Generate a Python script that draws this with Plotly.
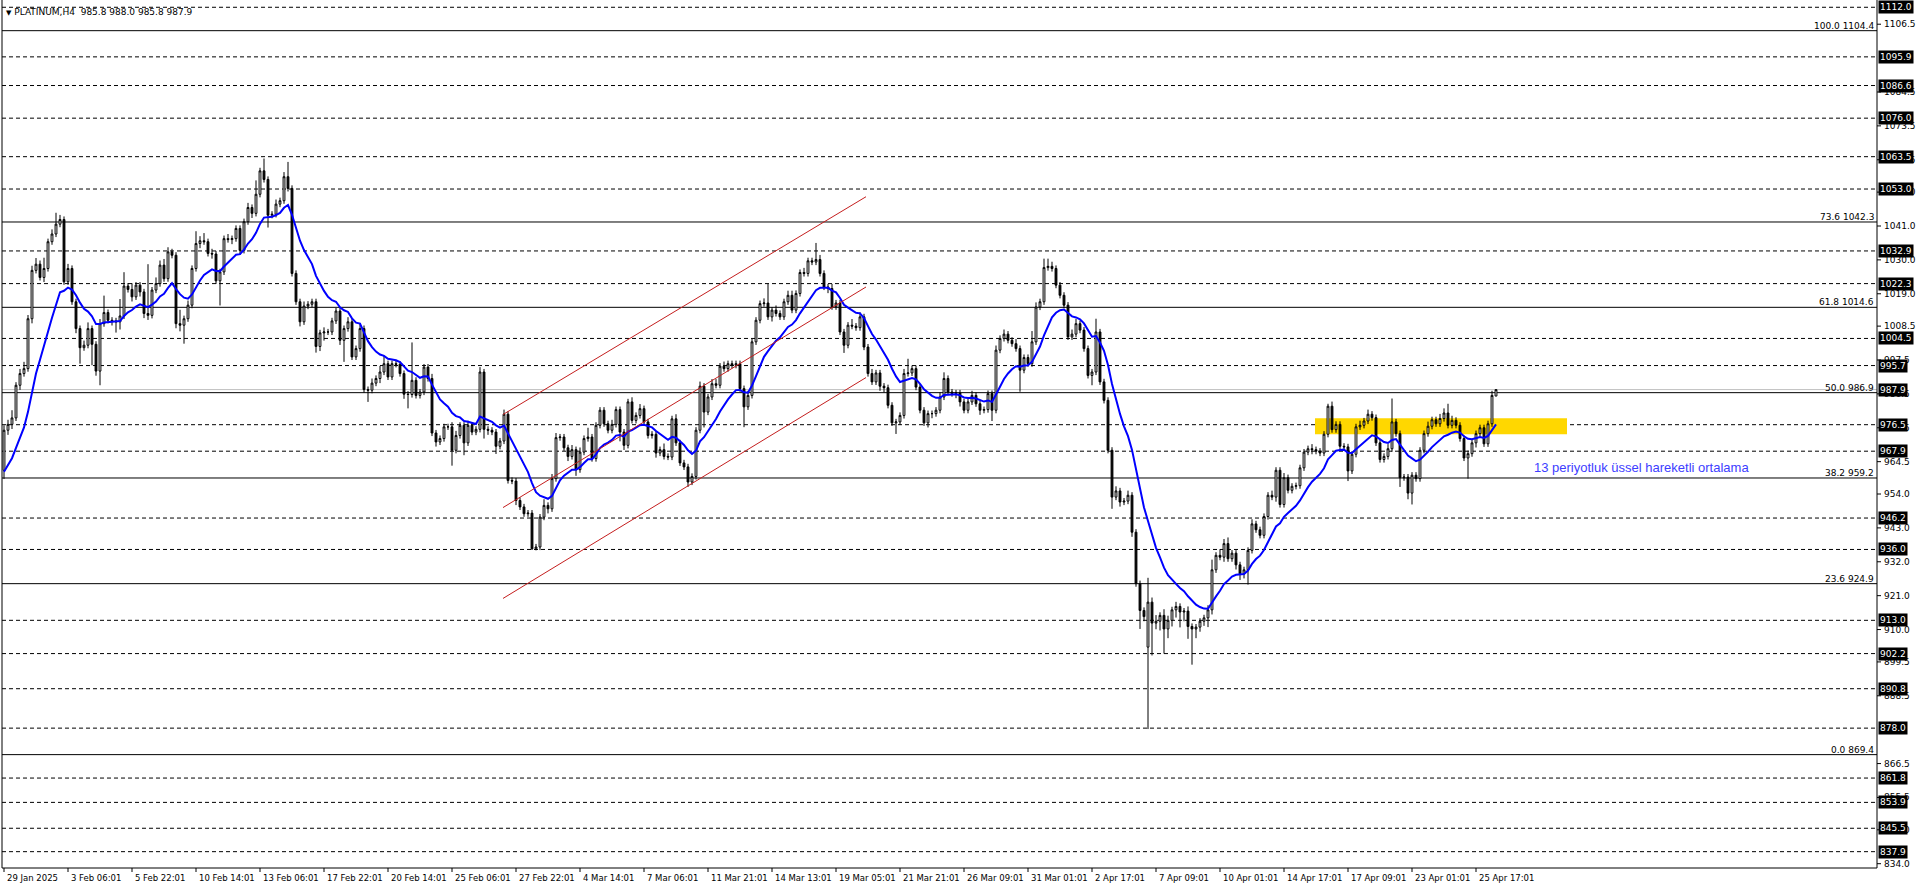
import plotly.graph_objects as go

# ---------------- data ----------------
closes = [
974.7, 976.6, 978.7, 989.3, 993.1, 994.7, 1010.9, 1026.6, 1028.6, 1024.3,
1027.2, 1035.9, 1038.4, 1041.6, 1043.1, 1022.9, 1027.2, 1016.4, 1007.7, 1001.5,
1002.3, 1007.7, 1002.6, 993.9, 1009.3, 1012.9, 1010.4, 1010.2, 1009.9, 1011.8,
1021.5, 1020.4, 1018.0, 1021.8, 1019.6, 1012.6, 1012.0, 1020.2, 1022.3, 1028.3,
1023.9, 1032.6, 1031.5, 1009.3, 1008.8, 1010.9, 1015.3, 1027.2, 1035.3, 1036.2,
1035.9, 1032.1, 1031.9, 1023.2, 1026.1, 1036.9, 1036.6, 1036.9, 1040.2, 1033.1,
1042.4, 1047.0, 1045.1, 1051.3, 1058.9, 1056.1, 1044.5, 1044.8, 1048.1, 1049.2,
1057.0, 1053.2, 1025.6, 1016.4, 1009.9, 1015.0, 1015.6, 1016.4, 1001.9, 1006.3,
1006.6, 1006.6, 1010.2, 1013.4, 1003.9, 1007.7, 1009.9, 998.5, 1001.2, 1007.7,
987.9, 987.7, 990.0, 991.5, 993.6, 996.3, 992.0, 996.3, 996.1, 993.1,
986.4, 986.3, 990.9, 986.0, 987.1, 995.2, 991.5, 973.8, 970.9, 972.0,
975.8, 975.8, 968.2, 973.0, 976.3, 970.6, 976.3, 974.1, 975.0, 993.6,
975.0, 974.7, 974.1, 969.5, 971.2, 979.9, 958.4, 958.2, 951.9, 949.8,
947.6, 947.8, 936.2, 936.8, 946.5, 950.3, 949.2, 959.0, 972.3, 972.5,
969.0, 966.2, 968.4, 961.9, 967.6, 972.0, 972.5, 965.5, 976.3, 981.2,
976.8, 974.7, 976.6, 981.4, 974.1, 969.8, 983.9, 977.9, 979.5, 981.7,
977.4, 973.0, 973.4, 967.3, 968.4, 966.2, 966.0, 978.4, 970.6, 964.1,
962.8, 957.9, 959.7, 974.7, 989.0, 980.6, 985.5, 989.8, 989.3, 995.5,
994.7, 996.3, 995.8, 996.3, 988.2, 982.3, 986.0, 1003.4, 1010.4, 1015.8,
1016.0, 1011.5, 1013.7, 1012.6, 1011.5, 1016.4, 1018.5, 1013.7, 1019.1, 1025.9,
1025.6, 1029.7, 1029.3, 1030.1, 1025.6, 1021.2, 1020.7, 1014.8, 1016.0, 1006.6,
1002.3, 1008.8, 1008.5, 1008.0, 1011.5, 1001.7, 993.1, 990.4, 993.3, 989.0,
988.5, 982.8, 977.1, 977.4, 979.5, 993.1, 993.3, 994.7, 988.7, 981.2,
977.1, 980.1, 980.1, 981.2, 985.5, 991.5, 987.1, 986.6, 986.8, 983.9,
981.2, 983.9, 986.0, 983.3, 981.2, 981.4, 986.6, 981.2, 1000.7, 1004.5,
1005.9, 1003.9, 1002.8, 1001.2, 994.2, 998.3, 996.3, 1003.4, 1014.7, 1016.4,
1027.5, 1027.9, 1027.2, 1021.8, 1018.5, 1015.3, 1005.0, 1005.9, 1009.3, 1007.2,
1001.2, 992.5, 993.6, 1006.6, 990.4, 984.4, 968.2, 953.0, 955.0, 951.4,
951.7, 953.6, 941.6, 924.9, 916.2, 914.2, 918.9, 912.1, 912.7, 914.6,
910.2, 913.0, 916.4, 917.5, 915.7, 916.0, 911.0, 910.2, 910.8, 912.7,
913.8, 916.4, 929.4, 934.1, 933.5, 937.9, 933.0, 934.8, 931.0, 928.1,
929.4, 935.7, 944.3, 942.4, 940.6, 946.7, 953.6, 953.0, 961.7, 950.6,
959.3, 955.2, 956.5, 956.7, 962.5, 967.6, 968.7, 968.4, 967.9, 967.3,
973.4, 982.5, 974.9, 976.6, 969.5, 969.3, 961.5, 966.9, 975.8, 976.3,
977.7, 979.9, 978.8, 970.6, 965.2, 966.2, 968.7, 977.4, 973.6, 959.3,
959.5, 954.3, 960.1, 959.0, 968.2, 973.6, 976.0, 978.1, 976.8, 978.5,
980.3, 976.3, 977.9, 976.3, 972.0, 965.7, 967.1, 970.6, 973.6, 975.5,
970.3, 976.8, 986.0, 987.9,
]

upper_wick = [
1.6,1.5,2.5,1.0,1.5,2.2,1.2,1.5,2.0,1.2,
3.5,1.0,1.5,3.7,1.5,1.0,1.5,1.0,1.0,1.0,
1.5,2.0,1.0,1.0,1.5,5.5,1.0,1.0,1.0,5.5,
4.5,1.0,2.0,1.0,1.0,1.0,16.0,1.0,2.0,1.5,
2.0,1.5,1.0,1.0,4.5,1.0,1.5,1.0,4.0,1.5,
2.5,1.0,1.5,1.0,1.0,1.0,1.5,1.0,1.0,1.0,
1.0,1.5,1.0,4.5,1.0,4.0,1.0,1.0,1.5,1.0,
1.5,4.8,1.0,1.0,1.0,1.5,1.0,1.0,1.0,1.0,
1.5,1.0,1.0,1.0,1.0,1.0,1.5,1.0,1.0,1.5,
1.0,1.0,1.5,1.0,2.0,2.5,1.0,1.0,1.0,1.0,
1.0,1.0,12.3,1.0,1.0,1.0,1.0,1.5,1.0,1.0,
1.0,1.0,1.5,1.5,1.0,1.0,1.5,1.0,1.0,1.6,
1.0,1.0,1.0,1.0,1.0,1.5,1.0,1.0,1.0,1.0,
1.0,1.0,1.0,1.0,1.0,2.0,1.0,1.5,1.5,1.0,
1.0,1.0,1.5,1.0,1.5,1.0,3.0,1.0,1.0,1.0,
1.0,1.0,1.5,1.0,1.0,1.0,1.0,1.5,1.0,1.5,
1.0,1.0,1.0,1.0,1.0,2.0,1.0,1.0,1.5,1.0,
1.0,1.0,1.0,1.0,1.5,1.0,1.0,1.5,1.5,1.0,
1.5,1.0,1.0,1.0,1.0,1.0,1.5,1.0,1.0,1.0,
1.5,6.3,1.0,1.5,1.0,1.0,1.5,1.5,1.0,1.0,
1.5,1.0,1.0,5.4,1.5,1.0,1.0,1.5,1.0,1.0,
1.0,1.0,2.0,1.0,1.5,1.0,1.0,1.5,1.0,1.0,
1.0,1.0,1.0,1.0,1.0,1.5,4.6,1.0,1.0,1.0,
1.0,1.0,1.0,1.0,1.5,2.0,1.0,1.0,1.0,1.0,
1.0,1.0,1.5,1.0,1.0,1.0,1.0,1.0,1.5,1.0,
1.5,1.0,1.0,1.5,1.0,1.0,1.0,3.5,1.5,1.0,
2.9,2.5,1.5,1.0,1.0,1.0,1.0,1.5,1.5,1.0,
1.0,1.0,1.0,4.3,1.0,1.0,1.0,1.0,1.5,1.0,
1.0,1.5,1.0,1.0,1.0,1.0,7.9,1.5,2.0,1.0,
2.0,1.5,1.0,1.5,1.0,1.0,1.5,1.0,1.0,1.0,
1.0,1.5,3.3,1.0,2.0,1.5,2.0,1.0,1.0,1.0,
1.0,1.0,1.5,1.0,1.0,1.0,1.0,1.5,1.0,1.0,
1.5,1.0,1.0,1.0,1.0,1.0,1.0,1.5,1.0,1.0,
1.0,0.8,1.5,1.0,1.0,1.0,1.0,1.0,1.0,1.5,
1.0,1.5,1.0,1.0,1.0,1.0,1.5,7.6,1.0,1.0,
1.0,1.0,1.0,1.0,1.0,1.0,1.5,1.0,1.0,1.5,
1.5,3.0,1.5,1.0,1.0,1.0,1.0,1.0,1.0,1.0,
1.0,1.0,1.5,0.1,
]

lower_wick = [
2.8,1.5,1.5,1.0,1.5,1.0,1.0,1.5,1.0,1.0,
1.5,1.0,1.0,1.0,1.0,1.0,1.0,1.0,1.5,5.2,
1.0,1.0,6.8,1.5,4.6,1.0,1.0,1.5,3.5,2.5,
1.0,1.0,1.5,1.0,1.5,1.5,1.5,1.0,1.0,1.0,
1.0,1.0,1.0,1.5,2.0,6.0,1.0,1.0,1.0,1.5,
1.0,1.0,1.5,1.0,8.0,1.0,1.0,1.5,1.0,1.5,
1.0,1.0,1.5,1.0,1.0,1.0,4.0,1.0,1.0,1.0,
1.0,1.0,1.0,1.0,1.5,1.0,1.0,1.0,2.0,1.5,
2.5,1.0,1.0,1.0,1.5,7.0,1.0,1.0,1.0,1.0,
1.0,3.8,1.0,1.0,1.5,1.0,1.0,1.0,1.0,1.0,
1.5,4.5,1.0,1.0,1.0,1.0,1.0,1.0,1.5,1.0,
1.0,1.0,5.0,1.0,1.0,4.0,1.0,1.0,1.0,1.0,
3.0,1.5,1.0,2.5,1.0,1.0,1.0,1.0,1.5,1.0,
1.0,1.0,0.3,0.5,1.0,1.0,1.5,1.0,1.0,1.0,
1.0,1.5,1.0,2.0,1.0,1.0,1.0,1.0,1.0,1.0,
1.0,1.0,1.0,1.0,3.0,1.5,1.0,1.0,1.0,1.0,
1.0,1.0,1.0,1.5,1.0,1.0,1.0,1.0,1.0,1.0,
1.0,1.6,1.0,1.0,1.0,5.0,1.0,1.0,1.0,1.0,
1.0,1.0,1.0,1.0,1.0,6.6,1.0,1.0,1.0,1.0,
1.0,1.0,1.5,1.0,1.0,1.0,1.0,1.0,1.0,1.0,
1.0,1.0,1.0,1.0,1.0,1.0,1.5,1.0,1.0,1.0,
2.5,1.0,1.0,1.0,1.0,1.0,1.0,1.0,1.0,1.5,
1.5,1.0,1.0,3.6,1.0,1.0,1.0,1.0,1.0,1.0,
1.0,1.5,1.5,1.0,1.0,1.0,1.0,1.0,1.5,1.5,
1.0,1.0,1.0,1.0,1.5,1.0,1.0,3.5,1.0,1.0,
1.0,1.0,1.0,1.0,7.0,1.0,1.0,1.0,1.0,1.0,
1.0,1.0,1.0,1.0,1.0,1.0,1.0,1.0,1.0,1.0,
1.0,1.0,3.2,1.0,1.0,1.0,1.0,3.8,1.0,1.5,
1.0,1.0,1.5,1.0,6.0,1.5,26.6,10.5,2.0,3.0,
8.0,3.0,2.0,2.5,5.0,3.0,4.0,11.6,3.0,1.5,
1.5,3.0,1.5,1.0,1.0,1.5,1.0,1.0,1.5,2.0,
1.5,4.8,1.0,1.0,1.0,1.0,1.0,1.0,1.5,1.0,
1.0,1.0,1.0,1.0,1.0,1.0,1.0,1.5,1.0,1.0,
1.0,1.0,1.0,1.0,1.0,1.0,3.3,1.0,1.0,1.0,
1.0,1.0,1.0,1.0,1.0,1.0,1.0,1.0,1.0,3.0,
1.0,2.0,3.7,1.0,1.0,1.0,1.0,1.0,1.0,1.0,
1.0,1.0,1.0,1.0,1.0,1.0,6.7,1.0,1.5,1.0,
1.0,1.0,1.0,0.0,
]

gap_opens = {0: 961.7, 286: 904.3, 373: 985.8}   # bars whose open differs from prior close
ema_period = 13
ema_seed = 959.0                                  # EMA value before first visible bar

dashed_levels = [1112.0, 1095.9, 1086.6, 1076.0, 1063.5, 1053.0, 1032.9, 1022.3,
                 1004.5, 995.7, 976.5, 967.9, 946.2, 936.0, 913.0, 902.2, 890.8,
                 878.0, 861.8, 853.9, 845.5, 837.9]
fib_pct = [100.0, 73.6, 61.8, 50.0, 38.2, 23.6, 0.0]
fib_price = [1104.4, 1042.3, 1014.6, 986.9, 959.2, 924.9, 869.4]
bid_price = 987.9
axis_ticks = [1106.5, 1084.5, 1073.5, 1062.5, 1052.0, 1041.0, 1030.0, 1019.0,
              1008.5, 997.5, 986.5, 975.5, 964.5, 954.0, 943.0, 932.0, 921.0, 910.0,
              899.5, 888.5, 866.5, 855.5, 845.0, 834.0]

time_label_bars = [0, 16, 32, 48, 64, 80, 96, 112, 128, 144, 160, 176, 192, 208, 224,
                   240, 256, 272, 288, 304, 320, 336, 352, 368]
time_labels = ["29 Jan 2025", "3 Feb 06:01", "5 Feb 22:01", "10 Feb 14:01", "13 Feb 06:01",
               "17 Feb 22:01", "20 Feb 14:01", "25 Feb 06:01", "27 Feb 22:01", "4 Mar 14:01",
               "7 Mar 06:01", "11 Mar 21:01", "14 Mar 13:01", "19 Mar 05:01", "21 Mar 21:01",
               "26 Mar 09:01", "31 Mar 01:01", "2 Apr 17:01", "7 Apr 09:01", "10 Apr 01:01",
               "14 Apr 17:01", "17 Apr 09:01", "23 Apr 01:01", "25 Apr 17:01"]

channel_x = [124.75, 215.5]
channel_upper = [979.8, 1050.5]
channel_mid = [949.6, 1021.2]
channel_lower = [920.1, 991.8]

zone_x = [327.75, 390.75]
zone_price = [973.4, 978.6]

note_text = "13 periyotluk üssel hareketli ortalama"
note_pos = (382, 962.5)
header = "PLATINUM,H4  985.8 988.0 985.8 987.9"

# ---------------- build ----------------
n = len(closes)
x = list(range(n))
opens = [gap_opens.get(i, closes[i - 1] if i > 0 else closes[0]) for i in range(n)]
highs = [max(o, c) + u for o, c, u in zip(opens, closes, upper_wick)]
lows = [min(o, c) - d for o, c, d in zip(opens, closes, lower_wick)]

alpha = 2.0 / (ema_period + 1)
ema = []
prev = ema_seed
for c in closes:
    prev = alpha * c + (1 - alpha) * prev
    ema.append(prev)

FONT = "DejaVu Sans"
fig = go.Figure()
fig.add_trace(go.Candlestick(
    x=x, open=opens, high=highs, low=lows, close=closes,
    increasing=dict(line=dict(color="black", width=1), fillcolor="white"),
    decreasing=dict(line=dict(color="black", width=1), fillcolor="black"),
    whiskerwidth=0, hoverinfo="skip", showlegend=False))
fig.add_trace(go.Scatter(x=x, y=ema, mode="lines",
                         line=dict(color="#0000ff", width=2),
                         hoverinfo="skip", showlegend=False))

shapes = []
# yellow zone (below candles)
shapes.append(dict(type="rect", xref="x", yref="y", x0=zone_x[0], x1=zone_x[1],
                   y0=zone_price[0], y1=zone_price[1], fillcolor="#ffd700",
                   line=dict(width=0), layer="below"))
for lv in dashed_levels:
    shapes.append(dict(type="line", xref="paper", yref="y", x0=0, x1=1, y0=lv, y1=lv,
                       line=dict(color="black", width=1, dash="4px,3px"), layer="below"))
shapes.append(dict(type="line", xref="paper", yref="y", x0=0, x1=1, y0=bid_price, y1=bid_price,
                   line=dict(color="#c0c0c0", width=1), layer="below"))
for fp in fib_price:
    shapes.append(dict(type="line", xref="paper", yref="y", x0=0, x1=1, y0=fp, y1=fp,
                       line=dict(color="black", width=1), layer="below"))
for ys in (channel_upper, channel_mid, channel_lower):
    shapes.append(dict(type="line", xref="x", yref="y", x0=channel_x[0], x1=channel_x[1],
                       y0=ys[0], y1=ys[1], line=dict(color="#c41e1e", width=1)))
# frame
shapes.append(dict(type="line", xref="paper", yref="paper", x0=0, x1=0, y0=0, y1=1,
                   line=dict(color="black", width=1)))
shapes.append(dict(type="line", xref="paper", yref="paper", x0=0, x1=1, y0=0, y1=0,
                   line=dict(color="black", width=1)))
shapes.append(dict(type="line", xref="paper", yref="paper", x0=1, x1=1, y0=0, y1=1,
                   line=dict(color="black", width=1)))
for b in time_label_bars:
    shapes.append(dict(type="line", xref="x", yref="paper", x0=b, x1=b, y0=0, y1=-4 / 868,
                       line=dict(color="black", width=1)))
for t in axis_ticks:
    shapes.append(dict(type="line", xref="paper", yref="y", x0=1, x1=1 + 4 / 1875, y0=t, y1=t,
                       line=dict(color="black", width=1)))

ann = []
for t in axis_ticks:
    ann.append(dict(xref="paper", yref="y", x=1, y=t, xanchor="left", yanchor="middle",
                    xshift=5, text=f"{t:.1f}", showarrow=False,
                    font=dict(family=FONT, size=9, color="black")))
for lv in dashed_levels + [bid_price]:
    ann.append(dict(xref="paper", yref="y", x=1, y=lv, xanchor="left", yanchor="middle",
                    xshift=1, text=f"{lv:.1f}", showarrow=False, bgcolor="black",
                    borderpad=1, font=dict(family=FONT, size=9, color="white")))
for pct, fp in zip(fib_pct, fib_price):
    ann.append(dict(xref="paper", yref="y", x=1, y=fp, xanchor="right", yanchor="bottom",
                    xshift=-1, yshift=-2, text=f"{pct:.1f} {fp:.1f}", showarrow=False,
                    font=dict(family=FONT, size=9, color="black")))
for b, lab in zip(time_label_bars, time_labels):
    ann.append(dict(xref="x", yref="paper", x=b, y=0, xanchor="left", yanchor="top",
                    xshift=1, yshift=-3, text=lab, showarrow=False,
                    font=dict(family=FONT, size=8.5, color="black")))
ann.append(dict(xref="x", yref="y", x=note_pos[0], y=note_pos[1], xanchor="left",
                yanchor="middle", text=note_text, showarrow=False,
                font=dict(family="Liberation Sans", size=13, color="#3d3dff")))
ann.append(dict(xref="paper", yref="paper", x=0, y=1, xanchor="left", yanchor="top",
                xshift=2, yshift=-5,
                text="<span style='font-size:7px'>▼</span> " + header.replace("  ", "&nbsp;&nbsp;"),
                showarrow=False, font=dict(family=FONT, size=9, color="black")))

fig.update_layout(
    width=1916, height=888,
    margin=dict(l=2, r=39, t=0, b=20, pad=0),
    paper_bgcolor="white", plot_bgcolor="white",
    showlegend=False, boxgap=0.35,
    xaxis=dict(range=[-0.5, 468.25], showgrid=False, zeroline=False, showticklabels=False,
               ticks="", showline=False, rangeslider=dict(visible=False), fixedrange=True),
    yaxis=dict(range=[832.6, 1114.36], showgrid=False, zeroline=False, showticklabels=False,
               ticks="", showline=False, fixedrange=True),
    shapes=shapes, annotations=ann,
)

fig.write_html("out.html", config={"displayModeBar": False},
               post_script="document.body.style.margin='0';document.body.style.overflow='hidden';")
